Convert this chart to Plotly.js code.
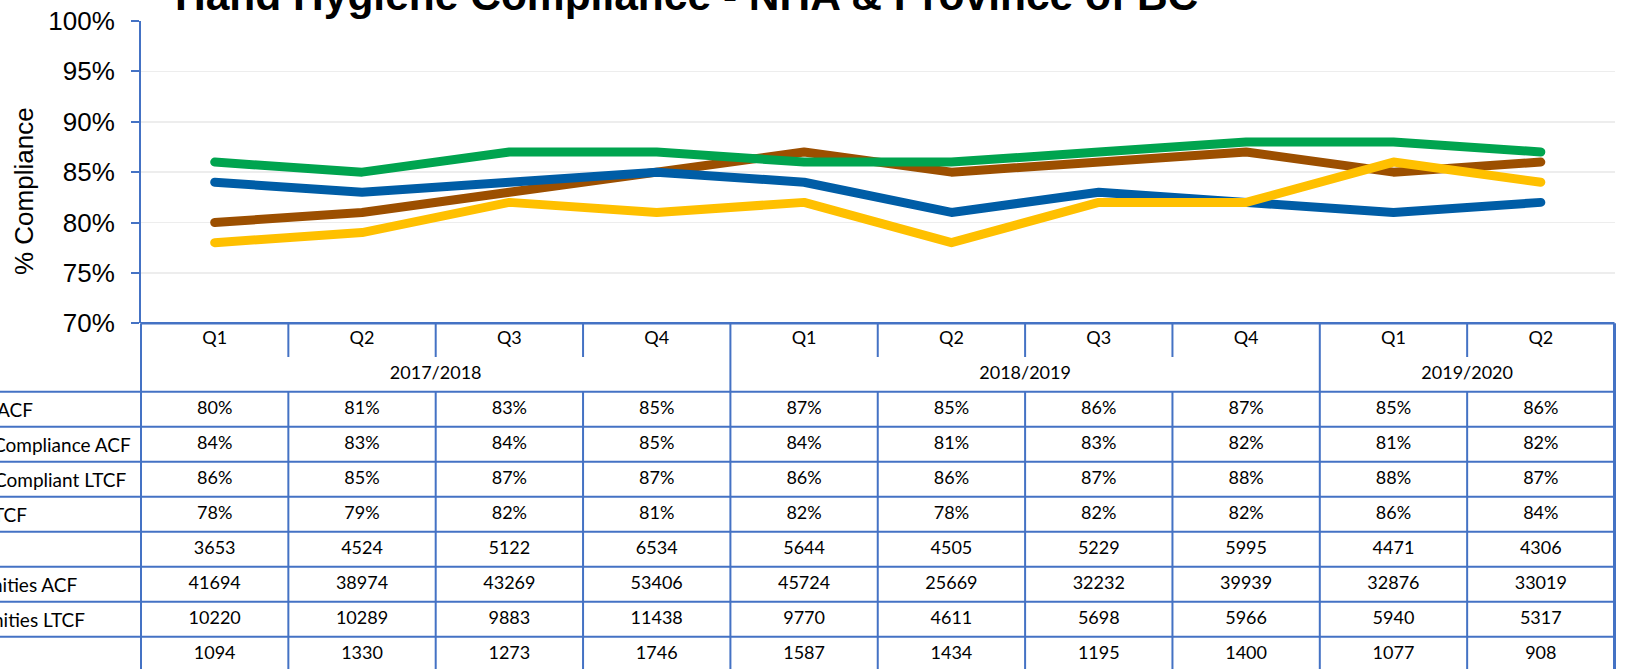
<!DOCTYPE html>
<html>
<head>
<meta charset="utf-8">
<script src="https://cdn.plot.ly/plotly-3.0.1.min.js"></script>
<style>
html,body{margin:0;padding:0;background:#fff;}
#chart{width:1638px;height:669px;}
.js-line{stroke-linecap:round !important;stroke-linejoin:round !important;}
</style>
</head>
<body>
<div id="chart"></div>
<script>
// ---------------- DATA ----------------
const quarters = ['Q1','Q2','Q3','Q4','Q1','Q2','Q3','Q4','Q1','Q2'];
const years = ['2017/2018','2018/2019','2019/2020'];
const yearSpans = [4,4,2];

const nhaACF   = [80,81,83,85,87,85,86,87,85,86];
const provACF  = [84,83,84,85,84,81,83,82,81,82];
const provLTCF = [86,85,87,87,86,86,87,88,88,87];
const nhaLTCF  = [78,79,82,81,82,78,82,82,86,84];
const row5     = [3653,4524,5122,6534,5644,4505,5229,5995,4471,4306];
const oppACF   = [41694,38974,43269,53406,45724,25669,32232,39939,32876,33019];
const oppLTCF  = [10220,10289,9883,11438,9770,4611,5698,5966,5940,5317];
const row8     = [1094,1330,1273,1746,1587,1434,1195,1400,1077,908];

// visible (cut-off) row label text
const rowLabels = ['ACF','Compliance ACF','Compliant LTCF','TCF','','nities ACF','nities LTCF',''];

const yTickVals = [0.70,0.75,0.80,0.85,0.90,0.95,1.00];
const yTickText = ['70%','75%','80%','85%','90%','95%','100%'];

const chartTitle = 'Hand Hygiene Compliance - NHA & Province of BC';
const yTitle = '% Compliance';

// ---------------- LAYOUT CONSTANTS ----------------
const W = 1638, H = 669;
const PL = 141, PR = 1614.5, PT = 21, PB = 323.3;
const T0 = 321.7;          // row grid origin (px)
const ROWH = 35;
const QEND = 357;
const labelRight = [35, 133, 128, 29, 0, 80, 87.3, 0]; // px
const BLUE = '#4472C4';
const colors = ['#9C4F00','#005DA6','#00A44F','#FFC000'];

const nCols = quarters.length;
const xIdx = quarters.map((q,i)=>i);
const px = v => v / W;
const py = v => 1 - v / H;
const colEdge = k => px(PL + k * (PR - PL) / nCols);

// ---------------- TRACES ----------------
const series = [nhaACF, provACF, provLTCF, nhaLTCF];
const traces = series.map((s,i)=>({
  type:'scatter', mode:'lines', x:xIdx, y:s.map(v=>v/100),
  xaxis:'x', yaxis:'y',
  line:{color:colors[i], width:9},
  hoverinfo:'skip', showlegend:false
}));

const tableFont = {family:'Lato, "Open Sans", sans-serif', size:18, color:'#000'};
const labelFont = {family:'Lato, "Open Sans", sans-serif', size:19, color:'#000'};
function textRow(row, vals, fmt){
  return {type:'scatter', mode:'text', x:xIdx, y:vals.map(()=>row),
    text:vals.map(fmt), textposition:'middle center', textfont:tableFont,
    xaxis:'x', yaxis:'y2', cliponaxis:false, hoverinfo:'skip', showlegend:false};
}
traces.push(textRow(0, quarters, v=>v));
// year labels centred on their spans
let cum = 0; const yearX = [];
yearSpans.forEach(s=>{ yearX.push(cum + (s-1)/2); cum += s; });
traces.push({type:'scatter', mode:'text', x:yearX, y:years.map(()=>1), text:years,
  textposition:'middle center', textfont:tableFont, xaxis:'x', yaxis:'y2',
  cliponaxis:false, hoverinfo:'skip', showlegend:false});
const pct = v=>v+'%', num = v=>String(v);
const tableRows = [[nhaACF,pct],[provACF,pct],[provLTCF,pct],[nhaLTCF,pct],[row5,num],[oppACF,num],[oppLTCF,num],[row8,num]];
tableRows.forEach((r,i)=>traces.push(textRow(i+2, r[0], r[1])));

// ---------------- SHAPES (table grid) ----------------
const shapes = [];
const ln = (x0,y0,x1,y1,w)=>({type:'line', xref:'paper', yref:'paper', x0, y0, x1, y1,
  line:{color:BLUE, width:w||2}, layer:'above'});
// top line of table
shapes.push(ln(px(PL), py(PB), colEdge(nCols), py(PB), 2.5));
// horizontal row lines (from left edge of page)
for (let j=2; j<=tableRows.length+2; j++){
  const yy = T0 + j*ROWH;
  if (yy > H+2) break;
  shapes.push(ln(0, py(yy), colEdge(nCols), py(yy), 2));
}
// vertical lines
const yearBounds = [0]; cum = 0; yearSpans.forEach(s=>{cum+=s; yearBounds.push(cum);});
for (let k=0; k<=nCols; k++){
  const w = (k===nCols) ? 3 : 2;
  if (yearBounds.includes(k)){
    shapes.push(ln(colEdge(k), py(PB), colEdge(k), py(H+2), w));
  } else {
    shapes.push(ln(colEdge(k), py(PB), colEdge(k), py(QEND), w));
    shapes.push(ln(colEdge(k), py(T0+2*ROWH), colEdge(k), py(H+2), w));
  }
}

// ---------------- ANNOTATIONS ----------------
const annotations = [];
rowLabels.forEach((t,i)=>{
  if (!t) return;
  annotations.push({text:t, xref:'paper', yref:'y2', x:px(labelRight[i]), y:i+2,
    xanchor:'right', yanchor:'middle', showarrow:false, font:labelFont});
});
annotations.push({text:'<b>'+chartTitle.replace('&','&amp;')+'</b>', xref:'paper', yref:'paper',
  x:px(686), y:py(-5), xanchor:'center', yanchor:'middle', showarrow:false,
  font:{family:'"Liberation Sans", Arial, sans-serif', size:42.5, color:'#000'}});
annotations.push({text:yTitle, xref:'paper', yref:'paper', x:px(24), y:py(191),
  xanchor:'center', yanchor:'middle', textangle:-90, showarrow:false,
  font:{family:'"Liberation Sans", Arial, sans-serif', size:26, color:'#000'}});

// ---------------- LAYOUT ----------------
const layout = {
  width:W, height:H, margin:{l:0,r:0,t:0,b:0,pad:0},
  paper_bgcolor:'#fff', plot_bgcolor:'rgba(0,0,0,0)',
  showlegend:false,
  xaxis:{domain:[px(PL), px(PR)], range:[-0.5, nCols-0.5], showticklabels:false,
    showgrid:false, zeroline:false, showline:false, ticks:'', fixedrange:true, anchor:'y'},
  yaxis:{domain:[py(PB), py(PT)], range:[0.70,1.00], tickvals:yTickVals, ticktext:yTickText,
    ticks:'outside', ticklen:8, tickwidth:2, tickcolor:BLUE, showline:true, linecolor:BLUE,
    linewidth:2, gridcolor:'#EDEDED', gridwidth:1.5, zeroline:false, ticklabelstandoff:11,
    tickfont:{family:'"Liberation Sans", Arial, sans-serif', size:26, color:'#000'}, anchor:'x', fixedrange:true},
  yaxis2:{domain:[0, py(T0)], range:[-0.5 + (H - T0)/ROWH, -0.5], visible:false, anchor:'x', fixedrange:true},
  shapes, annotations
};

Plotly.newPlot('chart', traces, layout, {displayModeBar:false, staticPlot:true});
</script>
</body>
</html>
